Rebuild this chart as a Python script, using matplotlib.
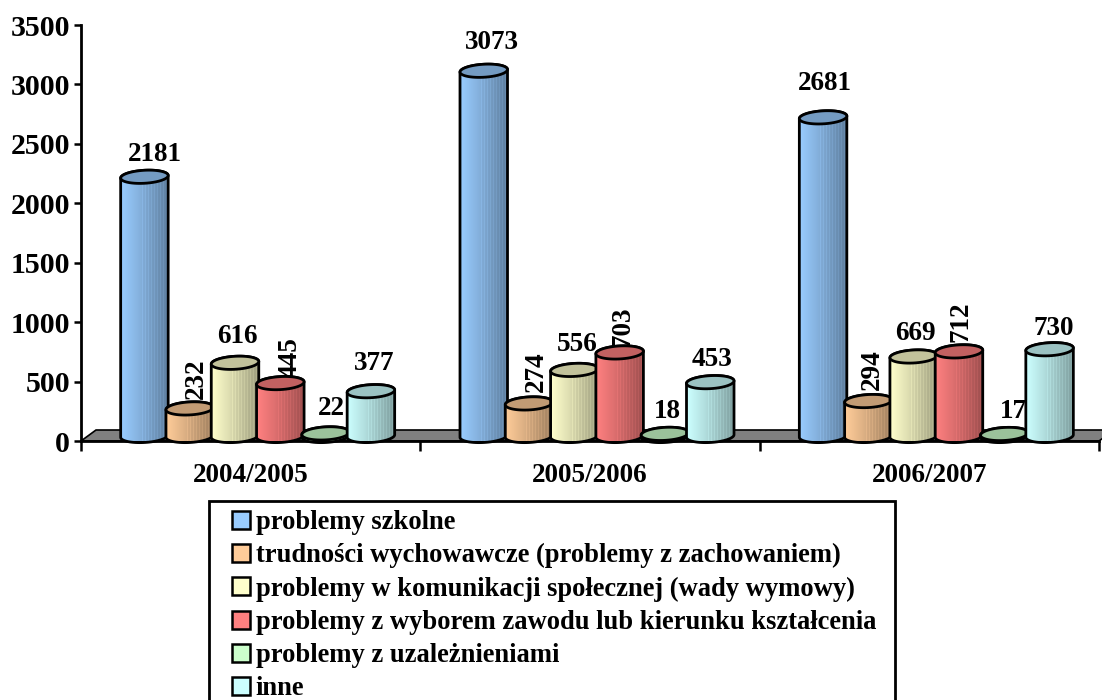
import numpy as np
import matplotlib
matplotlib.use("Agg")
import matplotlib.pyplot as plt
from matplotlib.patches import Polygon, Patch, PathPatch, Rectangle
from matplotlib.path import Path

plt.rcParams['font.family'] = ['Liberation Serif']
plt.rcParams['font.weight'] = 'bold'

years = ['2004/2005', '2005/2006', '2006/2007']
series_names = ['problemy szkolne',
                'trudności wychowawcze (problemy z zachowaniem)',
                'problemy w komunikacji społecznej (wady wymowy)',
                'problemy z wyborem zawodu lub kierunku kształcenia',
                'problemy z uzależnieniami',
                'inne']
szkolne = [2181, 3073, 2681]
wychowawcze = [232, 274, 294]
komunikacja = [616, 556, 669]
zawod = [445, 703, 712]
uzaleznienia = [22, 18, 17]
inne = [377, 453, 730]
series = [szkolne, wychowawcze, komunikacja, zawod, uzaleznienia, inne]
colors = ['#99CCFF', '#FFCC99', '#FFFFCC', '#FF8080', '#CCFFCC', '#CCFFFF']

# label styling: (dx px, dy px, rotation) relative to the cylinder top, per series/group
label_style = {
    (0, 0): (10, 22, 0), (0, 1): (8, 28, 0), (0, 2): (2, 34, 0),
    (1, 0): (7, 30, 90), (1, 1): (7, 32, 90), (1, 2): (4, 31, 90),
    (2, 0): (2, 26, 0), (2, 1): (3, 25, 0), (2, 2): (2, 23, 0),
    (3, 0): (10, 26, 90), (3, 1): (3, 26, 90), (3, 2): (2, 30, 90),
    (4, 0): (6, 25, 0), (4, 1): (2, 22, 0), (4, 2): (9, 22, 0),
    (5, 0): (3, 28, 0), (5, 1): (2, 23, 0), (5, 2): (4, 21, 0),
}

W, H = 1102, 700
L, R, B, T = 81, 1099, 441, 25
fig = plt.figure(figsize=(W / 100, H / 100), dpi=100)
ax = fig.add_axes([L / W, 1 - B / H, (R - L) / W, (B - T) / H])
ax.set_xlim(0, 3)
ax.set_ylim(0, 3500)
px = 3 / (R - L)
py = 3500 / (B - T)

for s in ('top', 'right'):
    ax.spines[s].set_visible(False)
for s in ('left', 'bottom'):
    ax.spines[s].set_linewidth(2.0)
    ax.spines[s].set_zorder(5)
ax.set_xticks([0, 1, 2, 3])
ax.set_xticklabels([])
ax.tick_params(axis='x', length=7, width=1.8, direction='out')
ax.set_xticks([0.5, 1.5, 2.5], minor=True)
ax.set_xticklabels(years, minor=True, fontsize=19.5, fontweight='bold')
ax.tick_params(axis='x', which='minor', length=0, pad=15.5)
ax.set_yticks(np.arange(0, 3501, 500))
ax.tick_params(axis='y', length=5, width=1.8, direction='out', labelsize=21.5, pad=3)

# floor
floor = Polygon([(0, 0), (15 * px, 11 * py), (3 + 15 * px, 11 * py), (3, 0)], closed=True,
                facecolor='#808080', edgecolor='black', lw=1.2, clip_on=False, zorder=1)
ax.add_patch(floor)

BW = 47.5 * px
STEP = 45.3 * px
DX = 7 * px
BASE = 5 * py
EH = 13 * py
TILT = 1.3 * py


def shade(c, f):
    return np.clip(np.array(matplotlib.colors.to_rgb(c)) * f, 0, 1)


def gradient(c):
    n = 48
    t = np.linspace(0, 1, n)
    f = np.interp(t, [0, 0.35, 1], [1.0, 0.88, 0.62])
    f = f + 0.05 * (np.arange(n) % 3 == 0) * (t > 0.4)
    return np.array([shade(c, v) for v in f])[None, :, :]


def arc(xc, yc, t):
    return np.column_stack([xc + BW / 2 * np.cos(t),
                            yc + EH / 2 * np.sin(t) + TILT * np.cos(t)])


def cylinder(xc, v, c, z):
    ybot = BASE
    ytop = BASE + v
    bottom = arc(xc, ybot, np.linspace(0, -np.pi, 40))      # right -> left along the front
    top = arc(xc, ytop, np.linspace(np.pi, 0, 40))          # left -> right along the back
    body = np.vstack([bottom, top])
    path = Path(np.vstack([body, body[:1]]), closed=True)
    im = ax.imshow(gradient(c), extent=(xc - BW / 2, xc + BW / 2, ybot - EH, ytop + EH),
                   aspect='auto', zorder=z, interpolation='nearest')
    im.set_clip_path(PathPatch(path, transform=ax.transData))
    ax.add_patch(PathPatch(path, facecolor='none', edgecolor='black', lw=2.0,
                           zorder=z + 0.2, clip_on=False))
    cap = arc(xc, ytop, np.linspace(0, 2 * np.pi, 80))
    ax.add_patch(Polygon(cap, closed=True, facecolor=shade(c, 0.76), edgecolor='black',
                         lw=2.0, zorder=z + 0.3, clip_on=False))


for j, (vals, c) in enumerate(zip(series, colors)):
    for i, v in enumerate(vals):
        xc = i + 0.5 + (j - 2.5) * STEP + DX
        cylinder(xc, v, c, 10 + 2 * j)
        dx, dy, rot = label_style[(j, i)]
        ax.text(xc + dx * px, BASE + v + dy * py, str(v), ha='center', va='center',
                rotation=rot, fontsize=19.5, fontweight='bold', zorder=9 + 2 * j, clip_on=False)

ax.set_xlim(0, 3)
ax.set_ylim(0, 3500)

# legend frame runs off the bottom of the picture
frame = Rectangle((209 / W, -6 / H), (895 - 209) / W, (700 - 501 + 6) / H, transform=fig.transFigure,
                  facecolor='white', edgecolor='black', lw=2.0, zorder=90, clip_on=True)
fig.add_artist(frame)

handles = [Patch(facecolor=c, edgecolor='black', lw=1.8) for c in colors]
leg = fig.legend(handles, series_names, loc='upper left',
                 bbox_to_anchor=(232 / W, 1 - 510 / H), bbox_transform=fig.transFigure,
                 frameon=False, borderaxespad=0,
                 prop={'family': 'Liberation Serif', 'weight': 'bold', 'size': 19.1},
                 handlelength=0.66, handleheight=0.66, handletextpad=0.24,
                 labelspacing=0.31, borderpad=0)
leg.set_zorder(100)

fig.savefig('out.png', dpi=100)
